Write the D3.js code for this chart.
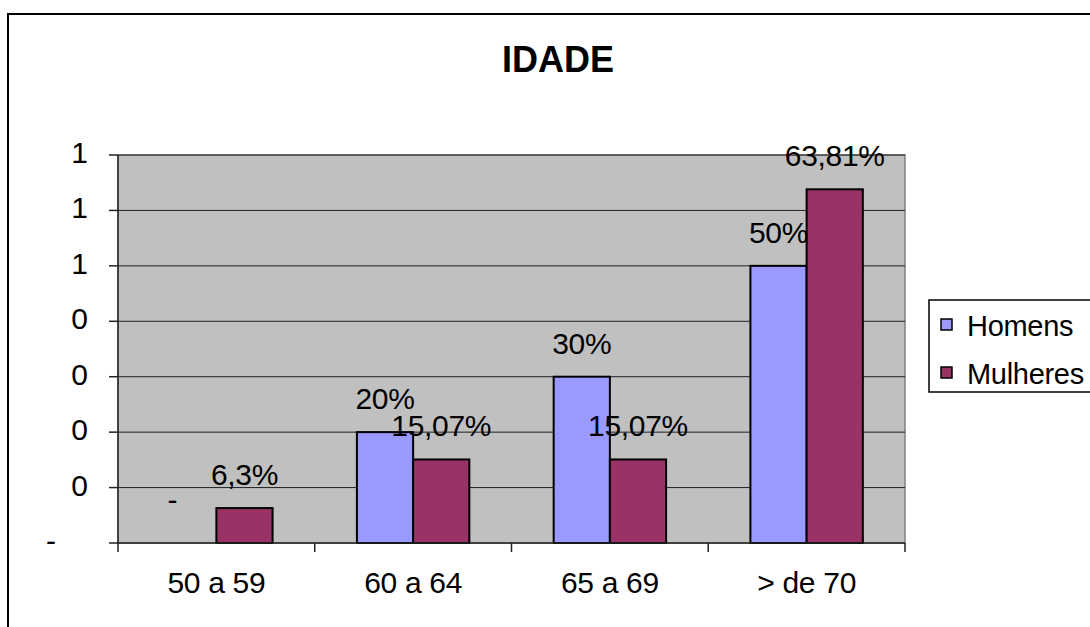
<!DOCTYPE html>
<html>
<head>
<meta charset="utf-8">
<script src="https://cdn.jsdelivr.net/npm/d3@7"></script>
<style>
  body { margin: 0; background: #fff; }
  svg { display: block; font-family: "Liberation Sans", Arial, sans-serif; }
</style>
</head>
<body>
<div id="chart"></div>
<script>
// chart data
var categories = ["50 a 59", "60 a 64", "65 a 69", "> de 70"];
var series = ["Homens", "Mulheres"];
var homens = [0, 0.20, 0.30, 0.50];
var mulheres = [0.063, 0.1507, 0.1507, 0.6381];
var homensLabels = ["-", "20%", "30%", "50%"];
var mulheresLabels = ["6,3%", "15,07%", "15,07%", "63,81%"];
var yTicks = [0, 0.1, 0.2, 0.3, 0.4, 0.5, 0.6, 0.7];
var yTickLabels = ["-", "0", "0", "0", "0", "1", "1", "1"];
var colors = ["#9999ff", "#993366"];

var width = 1090, height = 627;
var plot = {left: 118, right: 905, top: 155, bottom: 543};

var svg = d3.select("#chart").append("svg")
    .attr("width", width)
    .attr("height", height);

// outer chart frame (runs off the picture at right and bottom)
svg.append("rect")
    .attr("x", 8).attr("y", 14)
    .attr("width", 1200).attr("height", 700)
    .attr("fill", "#fff")
    .attr("stroke", "#000")
    .attr("stroke-width", 2);

svg.append("text")
    .attr("x", 558).attr("y", 72)
    .attr("text-anchor", "middle")
    .attr("font-size", 36)
    .attr("font-weight", "bold")
    .text("IDADE");

var x = d3.scaleBand()
    .domain(categories)
    .range([plot.left, plot.right]);

var bw = x.bandwidth();
var gap = bw * 1.5 / 3.5;   // excel gap width 150%
var x1 = d3.scaleBand()
    .domain(series)
    .range([gap / 2, bw - gap / 2]);

var y = d3.scaleLinear()
    .domain([0, 0.7])
    .range([plot.bottom, plot.top]);

// plot area
svg.append("rect")
    .attr("x", plot.left).attr("y", plot.top)
    .attr("width", plot.right - plot.left)
    .attr("height", plot.bottom - plot.top)
    .attr("fill", "#c0c0c0")
    .attr("stroke", "#808080")
    .attr("stroke-width", 1.5);

// gridlines
svg.append("g")
    .selectAll("line")
    .data(yTicks.slice(1))
    .enter().append("line")
    .attr("x1", plot.left).attr("x2", plot.right)
    .attr("y1", function (d) { return y(d); })
    .attr("y2", function (d) { return y(d); })
    .attr("stroke", "#222")
    .attr("stroke-width", 1);

// bars
var data = categories.map(function (c, i) {
    return {cat: c, vals: [homens[i], mulheres[i]], labels: [homensLabels[i], mulheresLabels[i]]};
});

var groups = svg.append("g").selectAll("g")
    .data(data)
    .enter().append("g")
    .attr("transform", function (d) { return "translate(" + x(d.cat) + ",0)"; });

function cells(d) {
    return series.map(function (s, j) { return {s: s, j: j, v: d.vals[j], label: d.labels[j]}; });
}

groups.selectAll("rect")
    .data(cells)
    .enter().append("rect")
    .filter(function (d) { return d.v > 0; })
    .attr("x", function (d) { return x1(d.s); })
    .attr("y", function (d) { return y(d.v); })
    .attr("width", x1.bandwidth())
    .attr("height", function (d) { return y(0) - y(d.v); })
    .attr("fill", function (d) { return colors[d.j]; })
    .attr("stroke", "#000")
    .attr("stroke-width", 2);

groups.selectAll("text.lbl")
    .data(cells)
    .enter().append("text")
    .attr("class", "lbl")
    .attr("x", function (d) {
        var cx = x1(d.s) + x1.bandwidth() / 2;
        return d.v === 0 ? cx - 16 : cx;
    })
    .attr("y", function (d) { return d.v === 0 ? 510 : y(d.v) - 23; })
    .attr("text-anchor", "middle")
    .attr("font-size", 30)
    .attr("letter-spacing", -0.3)
    .text(function (d) { return d.label; });

// axes
svg.append("line")
    .attr("x1", plot.left).attr("x2", plot.left)
    .attr("y1", plot.top).attr("y2", plot.bottom + 1)
    .attr("stroke", "#222").attr("stroke-width", 1.5);
svg.append("line")
    .attr("x1", plot.left).attr("x2", plot.right)
    .attr("y1", plot.bottom).attr("y2", plot.bottom)
    .attr("stroke", "#222").attr("stroke-width", 1.5);

// y ticks + labels
var yg = svg.append("g");
yg.selectAll("line")
    .data(yTicks)
    .enter().append("line")
    .attr("x1", plot.left - 9).attr("x2", plot.left)
    .attr("y1", function (d) { return y(d); })
    .attr("y2", function (d) { return y(d); })
    .attr("stroke", "#222").attr("stroke-width", 1.5);
yg.selectAll("text")
    .data(yTicks)
    .enter().append("text")
    .attr("x", function (d, i) { return yTickLabels[i] === "-" ? 56 : 88; })
    .attr("y", function (d) { return y(d) + 8; })
    .attr("text-anchor", "end")
    .attr("font-size", 30)
    .text(function (d, i) { return yTickLabels[i]; });

// x ticks + labels
var xEdges = categories.map(function (c) { return x(c); }).concat([plot.right]);
svg.append("g").selectAll("line")
    .data(xEdges)
    .enter().append("line")
    .attr("x1", function (d) { return d; }).attr("x2", function (d) { return d; })
    .attr("y1", plot.bottom).attr("y2", plot.bottom + 9)
    .attr("stroke", "#222").attr("stroke-width", 1.5);
svg.append("g").selectAll("text")
    .data(categories)
    .enter().append("text")
    .attr("x", function (d) { return x(d) + bw / 2; })
    .attr("y", 593)
    .attr("text-anchor", "middle")
    .attr("font-size", 30)
    .attr("letter-spacing", -0.3)
    .text(function (d) { return d; });

// legend
var legend = svg.append("g");
legend.append("rect")
    .attr("x", 929).attr("y", 300)
    .attr("width", 200).attr("height", 92)
    .attr("fill", "#fff")
    .attr("stroke", "#000")
    .attr("stroke-width", 1.5);
var items = legend.selectAll("g")
    .data(series)
    .enter().append("g")
    .attr("transform", function (d, i) { return "translate(0," + (i * 48) + ")"; });
items.append("rect")
    .attr("x", 941).attr("y", 319)
    .attr("width", 11).attr("height", 11)
    .attr("fill", function (d, i) { return colors[i]; })
    .attr("stroke", "#000")
    .attr("stroke-width", 1.5);
items.append("text")
    .attr("x", 967).attr("y", 336)
    .attr("font-size", 29)
    .attr("letter-spacing", -0.3)
    .text(function (d) { return d; });
</script>
</body>
</html>
